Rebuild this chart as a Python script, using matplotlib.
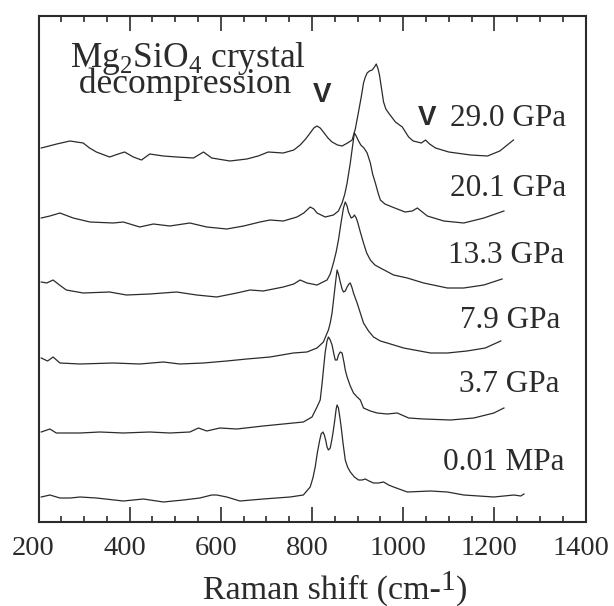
import matplotlib
matplotlib.use("Agg")
import matplotlib.pyplot as plt
from matplotlib.ticker import MultipleLocator
from matplotlib.transforms import IdentityTransform, ScaledTranslation

# Raman spectra of Mg2SiO4 crystal on decompression
# x: Raman shift (cm-1), y: intensity above each trace's baseline (arb. units)
pressures = ["29.0 GPa", "20.1 GPa", "13.3 GPa", "7.9 GPa", "3.7 GPa", "0.01 MPa"]
offsets = [365, 296, 230, 159, 90, 24]

shift_290 = [206, 240, 269, 298, 312, 327, 356, 375, 389, 408, 426, 444, 474, 503,
             540, 562, 580, 620, 657, 682, 704, 737, 760, 774, 786, 796, 804, 811,
             818, 825, 835, 844, 856, 866, 878, 888, 895, 902, 908, 913, 917, 921,
             926, 932, 937, 941, 945, 948, 952, 957, 962, 968, 983, 998, 1012, 1022,
             1031, 1040, 1049, 1058, 1071, 1100, 1148, 1185, 1212, 1242]
int_290 = [9, 13, 16, 14, 9, 5, 0, 3, 5, 0, -3, 3, 1, 0,
           -1, 5, -1, -4, -2, 1, 5, 4, 7, 12, 18, 24, 29, 31,
           29, 25, 19, 15, 12, 11, 14, 17, 28, 45, 60, 74, 80, 84,
           86, 87, 90, 93, 88, 82, 70, 55, 48, 44, 35, 30, 20, 16,
           15, 14, 17, 13, 9, 5, 2, 1, 6, 17]

shift_201 = [206, 225, 247, 276, 313, 364, 386, 422, 452, 488, 532, 569, 613, 650,
             686, 708, 737, 767, 782, 796, 804, 811, 829, 847, 858, 866, 872, 877,
             884, 889, 893, 897, 901, 907, 914, 921, 928, 933, 939, 945, 950, 960,
             976, 1004, 1020, 1031, 1042, 1053, 1089, 1133, 1177, 1221]
int_201 = [8, 10, 13, 8, 4, 3, 4, -1, 2, 0, 3, -1, -3, 0,
           4, 6, 5, 9, 13, 19, 17, 13, 9, 11, 15, 23, 32, 43,
           63, 80, 93, 90, 86, 81, 78, 73, 63, 52, 43, 33, 26, 22,
           19, 14, 15, 18, 14, 10, 5, 3, 8, 15]

shift_133 = [206, 218, 232, 246, 261, 298, 356, 393, 444, 503, 547, 591, 635, 664,
             693, 737, 760, 774, 789, 811, 833, 840, 847, 853, 858, 864, 869, 873,
             877, 880, 886, 890, 893, 897, 900, 906, 913, 920, 928, 938, 950, 979,
             1009, 1045, 1097, 1133, 1177, 1217]
int_133 = [10, 9, 12, 7, 2, -1, 0, -3, -2, 0, -3, -5, -1, 2,
           1, 5, 8, 12, 9, 7, 12, 18, 29, 40, 52, 70, 84, 90,
           86, 80, 74, 75, 77, 74, 70, 60, 49, 39, 32, 27, 24, 17,
           14, 9, 4, 4, 7, 13]

shift_79 = [206, 220, 232, 247, 291, 364, 422, 474, 510, 562, 613, 657, 708, 759,
            789, 811, 825, 836, 840, 844, 848, 852, 855, 858, 862, 866, 869, 873,
            877, 881, 884, 888, 891, 899, 906, 913, 924, 935, 950, 965, 1001,
            1060, 1097, 1140, 1180, 1214]
int_79 = [5, 2, 6, 0, -1, 0, -1, 1, -1, 0, 2, 4, 6, 10,
          11, 15, 21, 33, 40, 50, 66, 82, 93, 89, 81, 74, 71, 72,
          76, 79, 80, 75, 70, 60, 50, 40, 32, 26, 22, 20, 15,
          10, 10, 12, 15, 22]

shift_37 = [206, 225, 239, 291, 335, 386, 444, 488, 532, 551, 569, 598, 635, 693,
            737, 781, 800, 811, 818, 822, 825, 829, 833, 836, 840, 844, 848, 851,
            855, 858, 862, 866, 870, 873, 877, 884, 891, 899, 906, 913, 928, 943,
            965, 987, 1012, 1045, 1104, 1155, 1199, 1221]
int_37 = [0, 3, -1, -1, 0, -1, 0, -1, 0, 4, 1, 4, 3, 6,
          8, 10, 15, 25, 32, 48, 62, 80, 91, 95, 92, 87, 78, 72,
          72, 77, 80, 79, 70, 62, 55, 46, 39, 35, 32, 24, 21, 19,
          18, 19, 14, 13, 12, 14, 19, 24]

shift_0 = [206, 225, 247, 270, 291, 327, 386, 430, 474, 518, 554, 580, 591, 613,
           642, 693, 752, 781, 796, 802, 807, 812, 817, 820, 824, 827, 830, 833,
           836, 840, 843, 846, 850, 853, 855, 858, 861, 864, 868, 873, 878, 884,
           893, 902, 910, 917, 925, 935, 946, 957, 968, 979, 1009, 1060, 1097,
           1133, 1199, 1243, 1258, 1265]
int_0 = [1, 3, 0, 0, 1, 0, -3, -1, -4, -2, 0, 3, 3, 1,
         -3, -1, 1, 3, 11, 20, 31, 46, 58, 64, 66, 63, 58, 51,
         48, 50, 57, 65, 78, 89, 93, 90, 81, 71, 55, 38, 31, 26,
         21, 18, 18, 19, 17, 15, 15, 16, 13, 11, 6, 7, 6,
         3, 1, 3, 2, 4]

shifts = [shift_290, shift_201, shift_133, shift_79, shift_37, shift_0]
intensities = [int_290, int_201, int_133, int_79, int_37, int_0]

# label placement (data coords) and peak markers
label_x = [1357, 1357, 1354, 1344, 1344, 1353]
label_y = [404, 334, 267, 202, 137, 59]
marker_x = [822, 1053]
marker_y = [427, 404]

ink = "#2b2b2b"
serif = "Liberation Serif"
W, H = 614, 606


def text_runs(fig, x_px, base_px, runs):
    """Write pieces of text one after another; runs = (text, size, drop_px)."""
    renderer = fig.canvas.get_renderer()
    x = x_px
    for s, size, drop in runs:
        t = fig.text(x, H - base_px - drop, s, transform=IdentityTransform(),
                     ha="left", va="baseline", fontsize=size, family=serif,
                     color=ink)
        x = t.get_window_extent(renderer).x1


fig = plt.figure(figsize=(W / 100, H / 100), dpi=100)
ax = fig.add_axes([38.5 / W, 1 - 522 / H, 547 / W, 506 / H])

for xs, ys, off in zip(shifts, intensities, offsets):
    ax.plot(xs, [v + off for v in ys], color=ink, lw=0.9)

for name, lx, ly in zip(pressures, label_x, label_y):
    ax.text(lx, ly, name, ha="right", va="center", fontsize=22.5,
            family=serif, color=ink)

for mx, my in zip(marker_x, marker_y):
    ax.text(mx, my, "V", ha="center", va="center", fontsize=20,
            family="Liberation Sans", fontweight="bold", color=ink)

ax.set_xlim(200, 1400)
ax.set_ylim(0, 506)
ax.set_yticks([])
ax.xaxis.set_major_locator(MultipleLocator(200))
ax.xaxis.set_minor_locator(MultipleLocator(50))
ax.tick_params(axis="x", which="both", direction="in", top=True, bottom=True,
               color=ink, width=1.2)
ax.tick_params(axis="x", which="major", length=10.5, pad=10, labelsize=20.5,
               labelcolor=ink)
ax.tick_params(axis="x", which="minor", length=4)
shift_left = ScaledTranslation(-5 / 100, 0, fig.dpi_scale_trans)
for lab in ax.get_xticklabels():
    lab.set_family(serif)
    lab.set_transform(lab.get_transform() + shift_left)
for sp in ax.spines.values():
    sp.set_linewidth(1.5)
    sp.set_color(ink)

# title block: one text, two tightly packed lines as in the original
# (va='baseline' on a two-line text pins the last line's baseline)
fig.text(70.5, H - 93, "Mg$_\\mathregular{2}$SiO$_\\mathregular{4}$ crystal\n"
         " decompression", transform=IdentityTransform(), ha="left",
         va="baseline", fontsize=25.5, family=serif, color=ink,
         linespacing=0.62)

# axis label built from pieces so the exponent sits high at near full size
text_runs(fig, 203, 599, [("Raman shift (cm-", 24.5, 0), ("1", 21, -9),
                          (")", 24.5, 0)])

fig.savefig("out.png", dpi=100, facecolor="white")
